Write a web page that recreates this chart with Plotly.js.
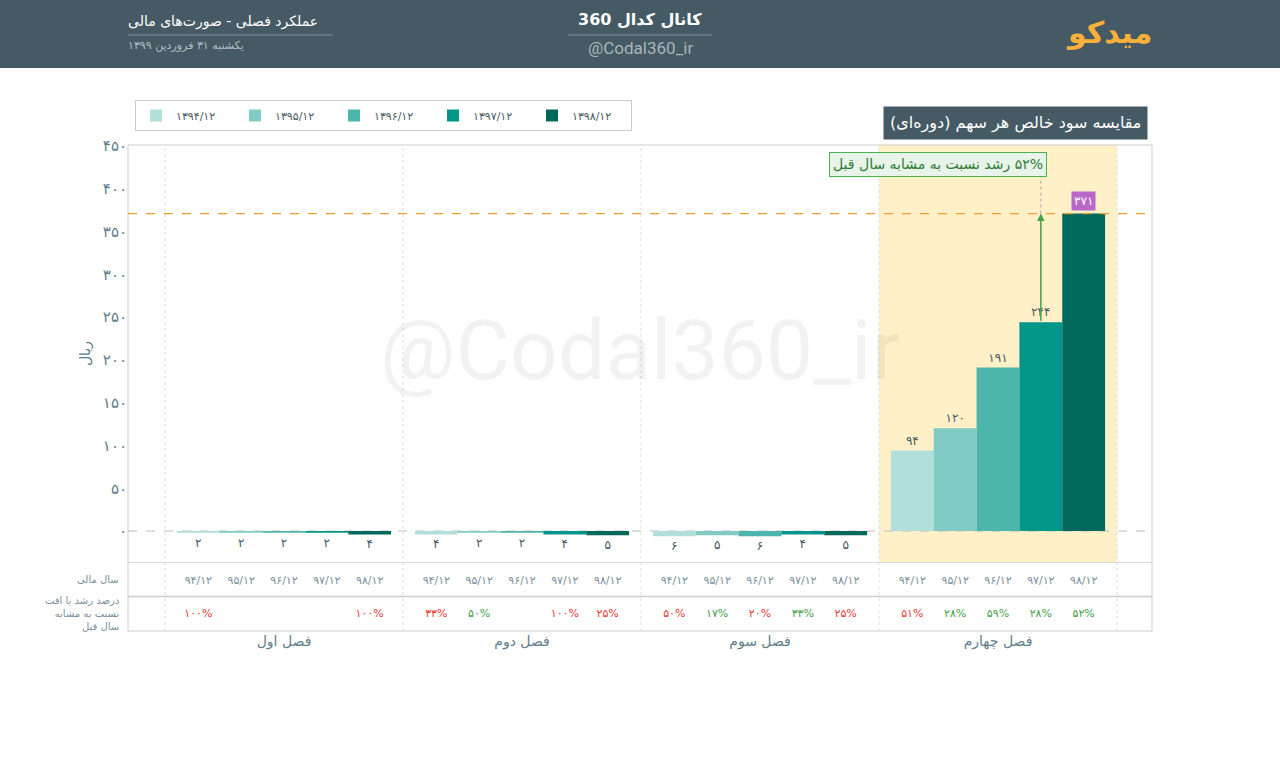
<!DOCTYPE html>
<html>
<head>
<meta charset="utf-8">
<script src="https://cdn.plot.ly/plotly-3.0.1.min.js"></script>
<style>
  html, body { margin: 0; padding: 0; background: #ffffff; }
  #chart { width: 1280px; height: 762px; }
</style>
</head>
<body>
<div id="chart"></div>
<script>
// ---------------- DATA ----------------
const quarters = ['فصل اول', 'فصل دوم', 'فصل سوم', 'فصل چهارم'];
const yearLabels = ['۱۳۹۴/۱۲', '۱۳۹۵/۱۲', '۱۳۹۶/۱۲', '۱۳۹۷/۱۲', '۱۳۹۸/۱۲'];
const yearShort = ['۹۴/۱۲', '۹۵/۱۲', '۹۶/۱۲', '۹۷/۱۲', '۹۸/۱۲'];

// EPS (rial) per quarter, one array per fiscal year
const eps1394 = [-2, -4, -6, 94];
const eps1395 = [-2, -2, -5, 120];
const eps1396 = [-2, -2, -6, 191];
const eps1397 = [-2, -4, -4, 244];
const eps1398 = [-4, -5, -5, 371];

// growth vs same quarter previous year (%), null = not shown; negative = decline
const growth1394 = [-100, -33, -50, -51];
const growth1395 = [null, 50, 17, 28];
const growth1396 = [null, null, -20, 59];
const growth1397 = [null, -100, 33, 28];
const growth1398 = [-100, -25, -25, 52];

const yTicks = [0, 50, 100, 150, 200, 250, 300, 350, 400, 450];

// ---------------- STYLE ----------------
const colors = ['#b2dfdb', '#80cbc4', '#4db6ac', '#009688', '#00695c'];
const FONT = 'DejaVu Sans, sans-serif';
const RLE = '\u202B', PDF = '\u202C';
const rtl = s => RLE + s + PDF;
const fa = n => String(n).replace(/\d/g, d => '۰۱۲۳۴۵۶۷۸۹'[d]);

const series = [eps1394, eps1395, eps1396, eps1397, eps1398];
const growth = [growth1394, growth1395, growth1396, growth1397, growth1398];

// geometry helpers (pixel -> paper) for decorations outside the plot
const L = 128, R = 1152, T = 145, B = 631;
const px = x => (x - L) / (R - L);
const py = y => (B - y) / (B - T);

const bargap = 0.1;
const nS = series.length;
const bw = (1 - bargap) / nS;
const off = i => (i - (nS - 1) / 2) * bw;
const qIdx = quarters.map((_, i) => i);
const maxAll = Math.max(...series.flat());

const traces = [];
series.forEach((vals, i) => {
  traces.push({
    type: 'bar',
    name: yearLabels[i],
    x: qIdx,
    y: vals,
    marker: { color: colors[i], line: { width: 0 } },
    text: vals.map(v => v === maxAll ? '' : fa(Math.abs(v))),
    textposition: 'outside',
    cliponaxis: false,
    textfont: { family: FONT, size: 12, color: '#455a64' },
    hoverinfo: 'x+y',
    xaxis: 'x', yaxis: 'y'
  });
});

// table rows: fiscal year and growth %
series.forEach((vals, i) => {
  traces.push({
    type: 'scatter', mode: 'text', showlegend: false,
    x: qIdx.map(q => q + off(i)),
    y: qIdx.map(() => 1.45),
    text: qIdx.map(() => yearShort[i]),
    textfont: { family: FONT, size: 11, color: '#78909c' },
    cliponaxis: false, hoverinfo: 'skip',
    xaxis: 'x', yaxis: 'y2'
  });
  const g = growth[i];
  const keep = qIdx.filter(q => g[q] !== null);
  traces.push({
    type: 'scatter', mode: 'text', showlegend: false,
    x: keep.map(q => q + off(i)),
    y: keep.map(() => 0.5),
    text: keep.map(q => fa(Math.abs(g[q])) + '%'),
    textfont: { family: FONT, size: 11, color: keep.map(q => g[q] < 0 ? '#e53935' : '#43a047') },
    cliponaxis: false, hoverinfo: 'skip',
    xaxis: 'x', yaxis: 'y2'
  });
});

const lastQ = quarters.length - 1;
const last = series[nS - 1][lastQ];
const prev = series[nS - 2][lastQ];
const xLast = lastQ + off(nS - 1);
const xPrev = lastQ + off(nS - 2);
const pct = growth[nS - 1][lastQ];

const shapes = [
  // header bar
  { type: 'rect', xref: 'paper', yref: 'paper', x0: px(0), x1: px(1280), y0: py(68), y1: py(0),
    fillcolor: '#455a64', line: { width: 0 }, layer: 'above' },
  { type: 'line', xref: 'paper', yref: 'paper', x0: px(128), x1: px(333), y0: py(35), y1: py(35),
    line: { color: '#7f919b', width: 1 }, layer: 'above' },
  { type: 'line', xref: 'paper', yref: 'paper', x0: px(568), x1: px(712), y0: py(35), y1: py(35),
    line: { color: '#7f919b', width: 1 }, layer: 'above' },
  // highlight of last quarter
  { type: 'rect', xref: 'x', yref: 'y domain', x0: lastQ - 0.5, x1: lastQ + 0.5, y0: 0, y1: 1,
    fillcolor: '#fff0c8', line: { width: 0 }, layer: 'below' },
  // frame
  { type: 'rect', xref: 'paper', yref: 'paper', x0: 0, x1: 1, y0: 0, y1: 1,
    line: { color: '#cccccc', width: 1 }, layer: 'above' },
  { type: 'line', xref: 'paper', yref: 'y2', x0: 0, x1: 1, y0: 2, y1: 2,
    line: { color: '#cccccc', width: 1.5 } },
  { type: 'line', xref: 'paper', yref: 'y2', x0: 0, x1: 1, y0: 1, y1: 1,
    line: { color: '#cccccc', width: 1.5 } },
  // zero line
  { type: 'line', xref: 'paper', yref: 'y', x0: 0, x1: 1, y0: 0, y1: 0,
    line: { color: '#bbbbbb', width: 1, dash: 'dash' }, layer: 'below' },
  // max reference line
  { type: 'line', xref: 'paper', yref: 'y', x0: 0, x1: 1, y0: last, y1: last,
    line: { color: '#f39c2f', width: 1.2, dash: 'dash' }, layer: 'above' },
  // connector to note
  { type: 'line', xref: 'x', yref: 'y', x0: xPrev, x1: xPrev, y0: last, y1: 414,
    line: { color: '#aaaaaa', width: 1, dash: 'dot' } }
];
for (let k = 0; k <= quarters.length; k++) {
  shapes.push({ type: 'line', xref: 'x', yref: 'paper', x0: k - 0.5, x1: k - 0.5, y0: 0, y1: 1,
    line: { color: '#dddddd', width: 1, dash: 'dot' }, layer: 'below' });
}

const annotations = [
  // watermark
  { xref: 'paper', yref: 'paper', x: px(640), y: py(350), xanchor: 'center', yanchor: 'middle',
    text: '@Codal360_ir', showarrow: false,
    font: { family: 'Roboto', size: 84, color: 'rgba(0,0,0,0.05)' } },
  // header
  { xref: 'paper', yref: 'paper', x: px(126), y: py(21), xanchor: 'left', yanchor: 'middle',
    text: rtl('عملکرد فصلی - صورت‌های مالی'),
    showarrow: false, font: { family: FONT, size: 14, color: '#ffffff' } },
  { xref: 'paper', yref: 'paper', x: px(126), y: py(45), xanchor: 'left', yanchor: 'middle',
    text: rtl('یکشنبه ۳۱ فروردین ۱۳۹۹'),
    showarrow: false, font: { family: FONT, size: 11, color: '#b0bec5' } },
  { xref: 'paper', yref: 'paper', x: px(640), y: py(20), xanchor: 'center', yanchor: 'middle',
    text: rtl('<b>کانال کدال 360</b>'),
    showarrow: false, font: { family: FONT, size: 16, color: '#ffffff' } },
  { xref: 'paper', yref: 'paper', x: px(640), y: py(48), xanchor: 'center', yanchor: 'middle',
    text: '@Codal360_ir',
    showarrow: false, font: { family: 'Roboto', size: 17, color: '#a9b4bb' } },
  { xref: 'paper', yref: 'paper', x: px(1154), y: py(33), xanchor: 'right', yanchor: 'middle',
    text: '<b>میدکو</b>',
    showarrow: false, font: { family: FONT, size: 30, color: '#fbb03b' } },
  // chart title box
  { xref: 'paper', yref: 'paper', x: px(1148), y: py(123), xanchor: 'right', yanchor: 'middle',
    text: rtl('مقایسه سود خالص هر سهم (دوره‌ای)'), showarrow: false,
    font: { family: FONT, size: 16, color: '#ffffff' }, bgcolor: '#455a64', borderpad: 6 },
  // table row labels
  { xref: 'paper', yref: 'y2', x: px(121), y: 1.5, xanchor: 'right', yanchor: 'middle',
    text: 'سال مالی', showarrow: false,
    font: { family: FONT, size: 10, color: '#78909c' } },
  { xref: 'paper', yref: 'y2', x: px(121), y: 0.5, xanchor: 'right', yanchor: 'middle', align: 'right',
    text: 'درصد رشد یا افت<br>نسبت به مشابه<br>سال قبل', showarrow: false,
    font: { family: FONT, size: 10, color: '#78909c' } },
  // growth arrow
  { xref: 'x', yref: 'y', x: xPrev, y: last, axref: 'x', ayref: 'y', ax: xPrev, ay: prev,
    text: '', showarrow: true, arrowhead: 2, arrowsize: 1, arrowwidth: 1.5, arrowcolor: '#43a047' },
  // growth note
  { xref: 'x', yref: 'y', x: xPrev, y: 414, xanchor: 'right', yanchor: 'bottom', xshift: 6,
    text: rtl(fa(pct) + '% رشد نسبت به مشابه سال قبل'), showarrow: false,
    font: { family: FONT, size: 14, color: '#2e7d32' }, bgcolor: '#e8f3ea', bordercolor: '#4caf50',
    borderwidth: 1, borderpad: 3 },
  // max value badge
  { xref: 'x', yref: 'y', x: xLast, y: last, xanchor: 'center', yanchor: 'bottom', yshift: 3,
    text: fa(last), showarrow: false, font: { family: FONT, size: 12, color: '#ffffff' },
    bgcolor: '#ba68c8', borderpad: 2 }
];

const layout = {
  width: 1280, height: 762,
  margin: { l: L, r: 1280 - R, t: T, b: 762 - B, autoexpand: false },
  paper_bgcolor: '#ffffff', plot_bgcolor: 'rgba(0,0,0,0)',
  font: { family: FONT, color: '#607d8b' },
  barmode: 'group', bargap: bargap, bargroupgap: 0,
  showlegend: true,
  legend: {
    orientation: 'h', x: px(135), y: py(100), xanchor: 'left', yanchor: 'top',
    bgcolor: '#ffffff', bordercolor: '#cccccc', borderwidth: 1,
    font: { family: FONT, size: 11, color: '#455a64' },
    entrywidth: 54, traceorder: 'normal', tracegroupgap: 0
  },
  xaxis: {
    anchor: 'y2', range: [(128 - 284) / 238, (1152 - 284) / 238],
    tickvals: qIdx, ticktext: quarters, ticks: '', showgrid: false, zeroline: false, showline: false,
    tickfont: { family: FONT, size: 14, color: '#607d8b' }
  },
  yaxis: {
    domain: [69 / 486, 1], range: [-36.2, 451.2],
    tickvals: yTicks, ticktext: yTicks.map(fa), ticks: '', showgrid: false, zeroline: false, showline: false,
    tickfont: { family: FONT, size: 15, color: '#607d8b' },
    title: { text: 'ریال', standoff: 8, font: { family: FONT, size: 14, color: '#607d8b' } }
  },
  yaxis2: {
    domain: [0, 69 / 486], range: [0, 2], showticklabels: false, ticks: '', showgrid: false,
    zeroline: false, showline: false
  },
  shapes: shapes,
  annotations: annotations
};

Plotly.newPlot('chart', traces, layout, { displayModeBar: false, staticPlot: true });
</script>
</body>
</html>
